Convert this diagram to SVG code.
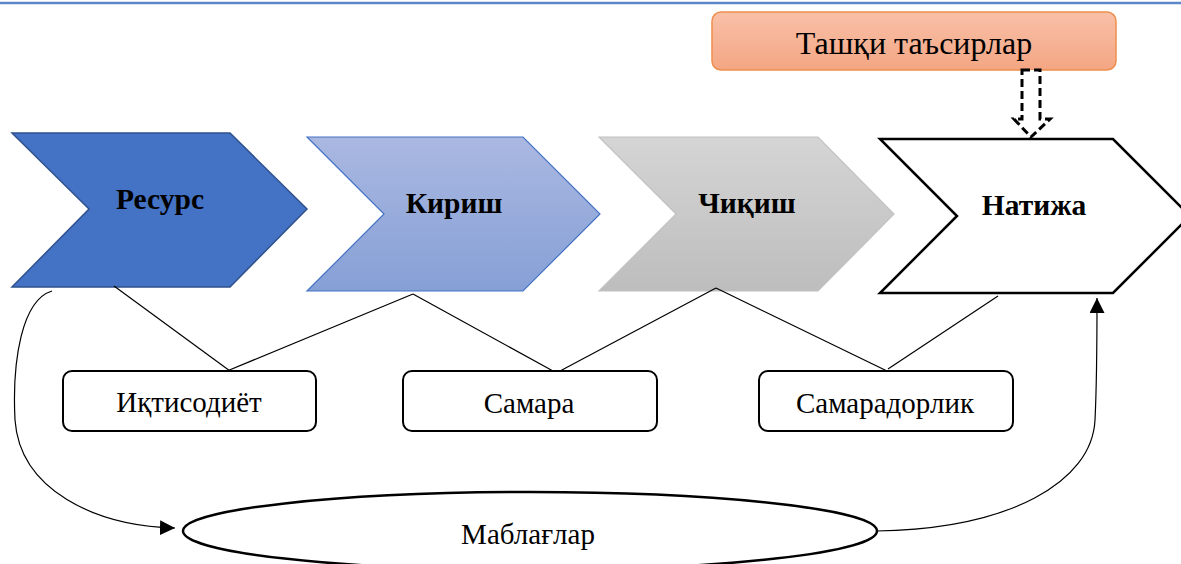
<svg xmlns="http://www.w3.org/2000/svg" width="1181" height="564" viewBox="0 0 1181 564">
  <defs>
    <linearGradient id="gOrange" x1="0" y1="0" x2="0" y2="1">
      <stop offset="0" stop-color="#f8c0a8"/>
      <stop offset="1" stop-color="#f4a683"/>
    </linearGradient>
    <linearGradient id="gBlue" x1="0" y1="0" x2="0" y2="1">
      <stop offset="0" stop-color="#aab8e1"/>
      <stop offset="1" stop-color="#86a0d6"/>
    </linearGradient>
    <linearGradient id="gGray" x1="0" y1="0" x2="0" y2="1">
      <stop offset="0" stop-color="#d5d5d5"/>
      <stop offset="1" stop-color="#bdbdbd"/>
    </linearGradient>
    <marker id="arr" viewBox="0 0 10 10" refX="10" refY="5" markerWidth="15" markerHeight="15" markerUnits="userSpaceOnUse" orient="auto">
      <path d="M0,0 L10,5 L0,10 Z" fill="#000"/>
    </marker>
  </defs>
  <style>
    .bold { font-family: "Liberation Serif", "Times New Roman", serif; font-weight: bold; font-size: 29.5px; fill: #000; text-anchor: middle; }
    .reg { font-family: "Liberation Serif", "Times New Roman", serif; font-size: 29px; fill: #000; text-anchor: middle; }
    .title { font-family: "Liberation Serif", "Times New Roman", serif; font-size: 32px; fill: #000; text-anchor: middle; }
    .box { fill: #fff; stroke: #000; stroke-width: 2; }
    .thin { fill: none; stroke: #000; stroke-width: 1.2; }
  </style>

  <line x1="0" y1="3" x2="1181" y2="3" stroke="#5b86c8" stroke-width="2.5"/>

  <g id="external">
    <rect x="712" y="12" width="404" height="58" rx="9" fill="url(#gOrange)" stroke="#ef8f4e" stroke-width="1.5"/>
    <text class="title" x="914" y="54">Ташқи таъсирлар</text>
  </g>

  <g id="dashed-arrow">
    <polygon points="1022,70 1040,70 1040,119 1050,119 1031,137 1014,119 1022,119" fill="#fff" stroke="#000" stroke-width="3" stroke-dasharray="8,4"/>
  </g>

  <g id="resurs">
    <polygon points="12,133 230,133 307,209 230,287 12,287 89,209" fill="#4472c4" stroke="#2f528f" stroke-width="1.5"/>
    <text class="bold" x="160" y="209">Ресурс</text>
  </g>

  <g id="kirish">
    <polygon points="307,137 523,137 600,214 523,291 307,291 384,214" fill="url(#gBlue)" stroke="#4472c4" stroke-width="1.2"/>
    <text class="bold" x="454" y="213">Кириш</text>
  </g>

  <g id="chiqish">
    <polygon points="599,137 818,137 894,214 818,291 599,291 676,214" fill="url(#gGray)" stroke="#c2c2c2" stroke-width="1.2"/>
    <text class="bold" x="747" y="213">Чиқиш</text>
  </g>

  <g id="natija">
    <polygon points="880,139 1113,139 1190,216 1113,293 880,293 957,216" fill="#fff" stroke="#000" stroke-width="2.5"/>
    <text class="bold" x="1034" y="215">Натижа</text>
  </g>

  <g id="connectors">
    <line class="thin" x1="114" y1="286" x2="230" y2="371"/>
    <line class="thin" x1="413" y1="294" x2="227" y2="371"/>
    <line class="thin" x1="413" y1="294" x2="553" y2="371"/>
    <line class="thin" x1="716" y1="288" x2="560" y2="371"/>
    <line class="thin" x1="716" y1="288" x2="887" y2="371"/>
    <line class="thin" x1="998" y1="296" x2="888" y2="369"/>
    <path class="thin" d="M52,291 C22,300 12,360 15,420 C20,490 95,526 175,528" marker-end="url(#arr)"/>
    <path class="thin" d="M876,531 C1010,529 1092,482 1095,420 C1097,380 1097,340 1097,298" marker-end="url(#arr)"/>
  </g>

  <g id="iqtisodiyot">
    <rect class="box" x="63" y="371" width="253" height="60" rx="9"/>
    <text class="reg" x="189" y="412">Иқтисодиёт</text>
  </g>

  <g id="samara">
    <rect class="box" x="403" y="371" width="254" height="60" rx="9"/>
    <text class="reg" x="529" y="413">Самара</text>
  </g>

  <g id="samaradorlik">
    <rect class="box" x="759" y="371" width="254" height="60" rx="9"/>
    <text class="reg" x="885" y="413">Самарадорлик</text>
  </g>

  <g id="mablaglar">
    <ellipse cx="530" cy="531" rx="347" ry="39" fill="#fff" stroke="#000" stroke-width="2.5"/>
    <text class="reg" x="528" y="544">Маблағлар</text>
  </g>
</svg>
